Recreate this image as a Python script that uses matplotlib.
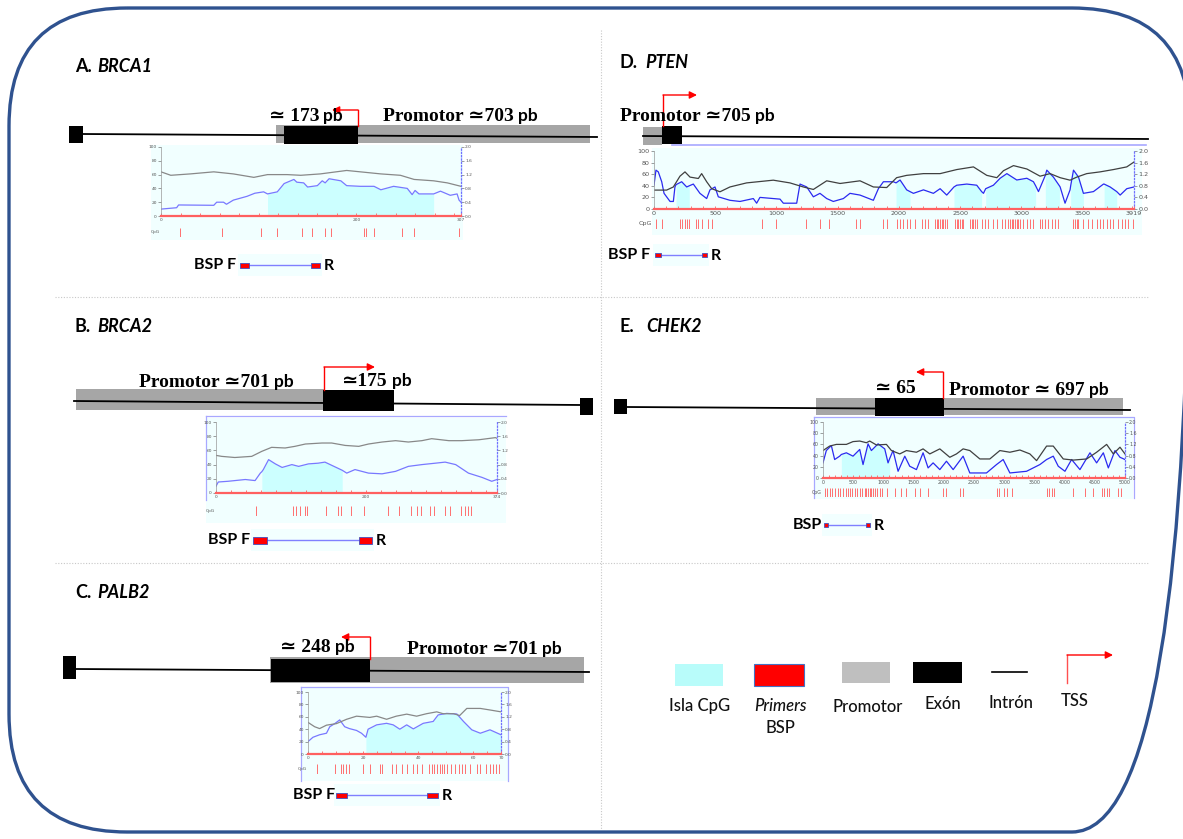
import numpy as np
import matplotlib.pyplot as plt
from matplotlib.patches import Rectangle, FancyBboxPatch

# -------------------------
# datos: contenido GC (%) y razon obs/esp CpG, islas, sitios CpG
# -------------------------
A_gc = [(0, 64), (10, 59), (30, 61), (54, 64), (74, 61), (95, 56), (109, 60), (129, 60),
        (143, 59), (163, 61), (190, 66), (204, 64), (225, 61), (245, 59), (259, 53),
        (279, 51), (293, 48), (307, 43)]
A_oe = [(0, 0.20), (16, 0.24), (18, 0.32), (54, 0.31), (57, 0.40), (64, 0.40), (67, 0.34),
        (74, 0.46), (88, 0.57), (96, 0.66), (105, 0.70), (109, 0.64), (119, 0.70), (126, 0.94),
        (136, 1.06), (139, 0.98), (146, 0.96), (150, 0.84), (160, 0.88), (165, 1.02),
        (168, 0.96), (172, 1.08), (184, 1.02), (190, 0.88), (204, 0.86), (218, 0.86),
        (225, 0.76), (238, 0.86), (252, 0.80), (257, 0.62), (260, 0.74), (264, 0.64),
        (279, 0.64), (286, 0.72), (296, 0.60), (303, 0.64), (305, 0.46), (307, 0.40)]
A_islands = [(109, 279)]
A_sites = [19, 62, 102, 119, 144, 155, 168, 174, 208, 210, 218, 247, 259, 305]
A_xticks = [0, 200, 307]

B_gc = [(0, 53), (7.5, 51.6), (25, 50), (47.5, 51.6), (61, 58.7), (74, 64.3), (92, 63.4),
        (105, 65.7), (119, 69), (141, 70.4), (154, 70.4), (172, 67), (190, 65.7), (203, 69),
        (221, 71.8), (239, 73.7), (256, 71.8), (274, 73.7), (287, 76.5), (310, 73.7),
        (327, 73.7), (350, 75), (372, 78), (374, 77)]
B_oe = [(0, 0.19), (3, 0.31), (16, 0.33), (39, 0.38), (52, 0.35), (59, 0.56), (61, 0.60),
        (63, 0.66), (70, 0.94), (79, 0.82), (88, 0.72), (101, 0.80), (110, 0.75), (123, 0.82),
        (136, 0.84), (145, 0.87), (154, 0.78), (168, 0.64), (174, 0.56), (185, 0.66),
        (203, 0.56), (221, 0.54), (239, 0.61), (256, 0.75), (274, 0.80), (292, 0.84),
        (305, 0.87), (319, 0.80), (336, 0.56), (354, 0.44), (367, 0.33), (374, 0.38)]
B_islands = [(61, 168)]
B_sites = [53, 102, 107, 112, 119, 121, 146, 162, 166, 180, 197, 229, 243, 259, 267, 273,
           285, 290, 305, 311, 326, 331, 336, 340]
B_xticks = [0, 200, 374]

C_gc = [(0, 51), (2.4, 44), (4.2, 41), (6.7, 46.5), (10.3, 49), (14, 56), (17.6, 61),
        (22.4, 59), (24.9, 61), (28.5, 56), (32, 61), (35.8, 64.3), (39.4, 61), (43, 65),
        (46.7, 68), (49, 65), (52.8, 65), (55, 62), (57.6, 73.5), (62.5, 73.5), (66, 71), (70, 68)]
C_oe = [(0, 0.40), (1.8, 0.54), (4.2, 0.62), (6.7, 0.67), (7.9, 0.88), (9.7, 0.98),
        (11.5, 1.10), (13.3, 0.88), (15, 0.82), (17.6, 0.76), (19.4, 0.67), (21, 0.54),
        (21.8, 0.80), (24.9, 0.94), (28.5, 0.99), (30.9, 0.94), (33.3, 0.80), (35.8, 0.94),
        (38.2, 0.81), (41.8, 0.99), (45.4, 1.05), (47.2, 1.26), (50.3, 1.31), (54, 1.29),
        (56.4, 1.05), (59.4, 0.78), (62.5, 0.67), (66, 0.78), (70, 0.62)]
C_islands = [(21, 70)]
C_sites = [3.4, 9.7, 11.8, 12.7, 13.7, 14.7, 20, 22.4, 26, 27, 30.3, 31.9, 34, 35.8, 38.2,
           39.4, 41.2, 44, 44.9, 45.7, 46.7, 47.7, 48.5, 49.4, 50.3, 51.8, 53.4, 54.6, 55.8,
           56.8, 58.8, 61.3, 62.5, 64.7, 65.9, 67.1, 68.3, 69.2]
C_xticks = [0, 20, 40, 60, 70]

D_gc = [(0, 32.6), (103, 32.6), (158, 38), (212, 56.6), (253, 64), (294, 55), (362, 52.6),
        (389, 61), (430, 47), (471, 35), (539, 29.7), (620, 38), (756, 45), (974, 49.7),
        (1110, 45), (1219, 38), (1301, 33.7), (1410, 48.6), (1519, 44), (1682, 48.6),
        (1791, 38), (1900, 37), (1981, 54), (2063, 58), (2200, 61), (2336, 61), (2472, 68),
        (2608, 72.6), (2717, 58), (2799, 54), (2853, 66), (2935, 74.8), (3044, 69),
        (3152, 56.6), (3234, 61), (3316, 54), (3397, 49.7), (3452, 55), (3533, 61),
        (3642, 64), (3751, 68), (3860, 72.6), (3919, 81)]
D_oe = [(0, 0.82), (16, 1.34), (35, 1.28), (63, 0.94), (82, 0.54), (131, 0.26), (158, 0.26),
        (171, 0.76), (180, 0.84), (226, 0.94), (267, 0.76), (288, 0.80), (321, 0.86),
        (375, 0.54), (430, 0.36), (457, 0.66), (498, 0.76), (525, 0.42), (620, 0.30),
        (702, 0.26), (811, 0.36), (838, 0.20), (865, 0.40), (1029, 0.34), (1056, 0.20),
        (1165, 0.20), (1192, 0.86), (1247, 0.76), (1301, 0.42), (1355, 0.54), (1410, 0.36),
        (1464, 0.26), (1546, 0.36), (1600, 0.54), (1682, 0.48), (1791, 0.30), (1832, 0.70),
        (1873, 0.94), (1955, 0.94), (1976, 0.90), (2009, 1.00), (2063, 0.66), (2090, 0.60),
        (2118, 0.54), (2200, 0.66), (2281, 0.54), (2336, 0.70), (2390, 0.48), (2449, 0.76),
        (2472, 0.82), (2554, 0.86), (2635, 0.82), (2675, 0.60), (2690, 0.54), (2708, 0.70),
        (2771, 0.82), (2826, 1.06), (2881, 1.22), (2962, 1.00), (3044, 1.06), (3098, 0.94),
        (3116, 0.80), (3139, 0.60), (3195, 1.16), (3207, 1.34), (3261, 1.10), (3310, 0.80),
        (3316, 0.76), (3356, 0.20), (3397, 0.66), (3402, 0.80), (3425, 1.34), (3466, 1.10),
        (3506, 0.54), (3588, 0.60), (3670, 0.86), (3675, 0.86), (3724, 0.76), (3778, 0.60),
        (3806, 0.48), (3860, 0.70), (3919, 0.76)]
D_islands = [(180, 288), (1976, 2090), (2449, 2675), (2708, 3116), (3195, 3310),
             (3402, 3506), (3675, 3778)]
D_sites = [16, 63, 212, 226, 253, 267, 289, 343, 362, 389, 443, 471, 879, 996, 1238, 1356,
           1429, 1650, 1682, 1867, 1900, 1981, 2009, 2036, 2063, 2090, 2131, 2186, 2213,
           2240, 2295, 2308, 2322, 2336, 2349, 2363, 2377, 2390, 2458, 2472, 2485, 2499,
           2513, 2526, 2580, 2594, 2608, 2621, 2635, 2676, 2703, 2730, 2771, 2798, 2839,
           2866, 2894, 2907, 2921, 2935, 2948, 2962, 2975, 2989, 3016, 3043, 3070, 3098,
           3152, 3166, 3193, 3220, 3247, 3275, 3302, 3419, 3438, 3452, 3465, 3506, 3547,
           3574, 3615, 3642, 3669, 3696, 3724, 3751, 3792, 3819, 3846, 3873, 3914]
D_xticks = [0, 500, 1000, 1500, 2000, 2500, 3000, 3500, 3919]

E_gc = [(0, 49), (110, 57), (221, 60), (387, 60), (497, 65), (608, 66), (718, 63), (773, 66),
        (884, 59), (1050, 60), (1133, 49), (1271, 43), (1381, 49), (1547, 46), (1657, 52),
        (1768, 43), (1934, 52), (2099, 37), (2210, 43), (2320, 52), (2431, 49), (2597, 34),
        (2762, 34), (2928, 49), (3094, 46), (3260, 50), (3425, 43), (3536, 31), (3702, 57),
        (3812, 57), (3978, 34), (4144, 32), (4365, 34), (4530, 46), (4696, 60), (4807, 43),
        (4917, 55), (5000, 43)]
E_oe = [(0, 0.54), (55, 0.98), (138, 1.16), (193, 0.66), (276, 0.78), (304, 0.84),
        (387, 0.90), (497, 0.78), (608, 1.02), (663, 0.48), (746, 1.22), (801, 0.98),
        (912, 1.22), (1022, 1.04), (1077, 0.54), (1105, 0.70), (1160, 0.98), (1243, 0.24),
        (1354, 0.78), (1436, 0.42), (1547, 0.30), (1657, 0.90), (1740, 0.36), (1823, 0.54),
        (1934, 0.30), (2044, 0.60), (2155, 0.30), (2320, 0.78), (2431, 0.18), (2707, 0.18),
        (2873, 0.48), (2983, 0.66), (3094, 0.18), (3370, 0.24), (3591, 0.48), (3702, 0.66),
        (3812, 0.78), (3895, 0.42), (4006, 0.24), (4116, 0.66), (4254, 0.30), (4420, 0.90),
        (4530, 0.54), (4641, 0.90), (4724, 0.36), (4834, 0.98), (4917, 0.74), (5000, 0.66)]
E_islands = [(304, 1105)]
E_sites = [28, 66, 110, 155, 199, 243, 287, 331, 376, 420, 453, 486, 525, 564, 608, 652,
           691, 718, 746, 773, 801, 829, 856, 895, 939, 983, 1061, 1188, 1298, 1381, 1519,
           1602, 1740, 1989, 2044, 2265, 2320, 2873, 2917, 2994, 3039, 3122, 3702, 3746,
           3785, 3829, 4133, 4337, 4475, 4613, 4657, 4696, 4740, 4890, 4928]
E_xticks = [0, 500, 1000, 1500, 2000, 2500, 3000, 3500, 4000, 4500, 5000]

titles = [("A.", "BRCA1"), ("B.", "BRCA2"), ("C.", "PALB2"), ("D.", "PTEN"), ("E.", "CHEK2")]
legend_labels = ["Isla CpG", "Primers", "Promotor", "Exón", "Intrón", "TSS"]

# -------------------------
# lienzo
# -------------------------
W, H = 1183, 839
fig = plt.figure(figsize=(W / 100, H / 100), dpi=100)
cv = fig.add_axes([0, 0, 1, 1])
cv.set_xlim(0, W)
cv.set_ylim(H, 0)
cv.axis("off")
renderer = fig.canvas.get_renderer()

SANS = ["Lato", "DejaVu Sans"]
SERIF = ["Liberation Serif", "DejaVu Serif"]
PROM = "#A6A6A6"


def frac(x0, y0, x1, y1):
    return [x0 / W, 1 - y1 / H, (x1 - x0) / W, (y1 - y0) / H]


def rect(x0, y0, x1, y1, color, z=2, ec="none", lw=0):
    cv.add_patch(Rectangle((x0, y0), x1 - x0, y1 - y0, facecolor=color,
                           edgecolor=ec, lw=lw, zorder=z))


def tss(x, y0, y1, x_end):
    cv.plot([x, x], [y0, y1], color="red", lw=1, zorder=5)
    cv.annotate("", xy=(x_end, y1), xytext=(x, y1),
                arrowprops=dict(arrowstyle="-|>", color="red", lw=1,
                                mutation_scale=11, shrinkA=0, shrinkB=0), zorder=5)


def glabel(x, y, s, unit="pb"):
    # numero en serif (tipo Cambria), "pb" en sans, misma linea base
    t = cv.text(x, y + 5, s, ha="left", va="baseline", fontsize=14, fontweight="bold",
                family=SERIF, zorder=6)
    if unit:
        bb = t.get_window_extent(renderer)
        xe = cv.transData.inverted().transform((bb.x1, bb.y0))[0]
        cv.text(xe + 4, y + 5, unit, ha="left", va="baseline", fontsize=12.5,
                fontweight="bold", family=SANS, zorder=6)


def bsp(tx, y, lab, f0, f1, r0, r1, h):
    cv.add_patch(Rectangle((f0 - 2, y - 11), r1 - f0 + 4, 22, facecolor="#F2FFFF",
                           edgecolor="none", zorder=1))
    cv.plot([f1, r0], [y, y], color="#8080FF", lw=1, zorder=2)
    rect(f0, y - h / 2, f1, y + h / 2, "red", 3, "#4050C0", 0.6)
    rect(r0, y - h / 2, r1, y + h / 2, "red", 3, "#4050C0", 0.6)
    cv.text(tx, y, lab, ha="right", va="center", fontsize=11.5, fontweight="bold",
            family=SANS)
    cv.text(r1 + 4, y + 1, "R", ha="left", va="center", fontsize=11.5,
            fontweight="bold", family=SANS)


def cpg_plot(area, row, bg, xmax, xticks, minor, gc, oe, islands, sites,
             gc_col, oe_col, fs):
    cv.add_patch(Rectangle((bg[0], bg[1]), bg[2] - bg[0], bg[3] - bg[1],
                           facecolor="#F1FFFF", edgecolor="none", zorder=0))
    ax = fig.add_axes(frac(*area))
    ax2 = ax.twinx()
    ax.set_zorder(ax2.get_zorder() + 1)
    ax.patch.set_visible(False)
    ax2.patch.set_visible(False)
    ax.set_xlim(0, xmax)
    ax.set_ylim(0, 100)
    ax2.set_ylim(0, 2)
    ox, oy = np.array(oe).T
    for a, b in islands:
        ax2.fill_between(ox, 0, oy, where=(ox >= a) & (ox <= b), color="#CCFFFF", lw=0)
    ax2.plot(ox, oy, color=oe_col, lw=0.9)
    gx, gy = np.array(gc).T
    ax.plot(gx, gy, color=gc_col, lw=0.9)
    for s in ["top", "right"]:
        ax.spines[s].set_visible(False)
    for s in ["top", "left", "bottom"]:
        ax2.spines[s].set_visible(False)
    ax.spines["left"].set_color("#999999")
    ax.spines["left"].set_linewidth(0.5)
    ax.spines["bottom"].set_color("#FF6060")
    ax.spines["bottom"].set_linewidth(1.6)
    ax2.spines["right"].set_color("#7070FF")
    ax2.spines["right"].set_linestyle(":")
    ax2.spines["right"].set_linewidth(0.9)
    ax.set_yticks(range(0, 101, 20))
    ax2.set_yticks([0, 0.4, 0.8, 1.2, 1.6, 2.0])
    ax.set_xticks(xticks)
    ax.set_xticks(np.arange(0, xmax, minor), minor=True)
    ax.tick_params(axis="y", labelsize=fs, colors="#555555", length=2, width=0.4, pad=1)
    ax2.tick_params(axis="y", labelsize=fs, colors="#555555", length=2, width=0.4, pad=1)
    ax.tick_params(axis="x", which="both", labelsize=fs, labelcolor="#555555",
                   color="#FF6060", direction="in", length=2.5, width=0.6, pad=1.5)
    axr = fig.add_axes(frac(*row))
    axr.set_xlim(0, xmax)
    axr.set_ylim(0, 1)
    axr.vlines(sites, 0, 1, color="#FF7070", lw=0.7)
    axr.axis("off")
    axr.text(-0.004, 0.5, "CpG", transform=axr.transAxes, ha="right", va="center",
             fontsize=fs, color="#555555")


# -------------------------
# borde y divisiones
# -------------------------
cv.add_patch(FancyBboxPatch((9, 8), 1181, 824, boxstyle="round,pad=0,rounding_size=118",
                            facecolor="none", edgecolor="#2F528F", lw=2.4, clip_on=False,
                            zorder=1))
cv.plot([601, 601], [30, 830], ls=(0, (1, 1.5)), color="#C8C8C8", lw=0.8)
for yy in [297, 563]:
    cv.plot([55, 1148], [yy, yy], ls=(0, (1, 1.5)), color="#C8C8C8", lw=0.8)

# titulos de panel
for (pre, gene), (x, y, gx) in zip(titles, [(75, 67, 97), (75, 327, 97), (75, 593, 97),
                                             (620, 63, 645), (620, 327, 646)]):
    cv.text(x, y, pre, ha="left", va="center", fontsize=13, fontweight="bold", family=SANS)
    cv.text(gx, y, gene, ha="left", va="center", fontsize=13, fontweight="bold",
            style="italic", family=SANS)

# -------------------------
# A. BRCA1
# -------------------------
rect(69, 126, 83, 143, "black")
rect(276, 125, 590, 143, PROM, 1)
cv.plot([83, 597], [134, 137], color="black", lw=1.3, zorder=2)
rect(284, 126, 358, 144, "black", 3)
tss(358, 126, 110, 332)
glabel(269, 116, "≃ 173")
glabel(383, 116, "Promotor ≃703")
cpg_plot((161, 147, 461, 216), (161, 228, 461, 237), (151, 145, 463, 240), 307, A_xticks,
         20, A_gc, A_oe, A_islands, A_sites, "#888888", "#7878FF", 3.2)
bsp(236, 265, "BSP F", 240, 249, 311, 320, 5)

# -------------------------
# B. BRCA2
# -------------------------
rect(76, 389, 325, 410, PROM, 1)
cv.plot([74, 581], [401, 405], color="black", lw=1.3, zorder=2)
rect(323, 390, 394, 411, "black", 3)
rect(580, 398, 593, 415, "black", 3)
tss(324, 390, 367, 375)
glabel(139, 382, "Promotor ≃701")
glabel(342, 381, "≃175")
cpg_plot((216, 422, 497, 493), (216, 506, 497, 516), (206, 418, 506, 523), 374, B_xticks,
         20, B_gc, B_oe, B_islands, B_sites, "#888888", "#7878FF", 3.2)
cv.plot([206, 506], [416, 416], color="#A8A8FF", lw=0.9)
cv.plot([206, 206], [416, 500], color="#A8A8FF", lw=0.9)
bsp(250, 540, "BSP F", 253, 267, 359, 372, 7)

# -------------------------
# C. PALB2
# -------------------------
rect(63, 656, 76, 679, "black")
rect(270, 657, 584, 683, PROM, 1)
cv.plot([76, 589], [669, 672], color="black", lw=1.3, zorder=2)
rect(271, 659, 370, 682, "black", 3)
tss(370, 659, 637, 341)
glabel(280, 647, "≃ 248")
glabel(407, 649, "Promotor ≃701")
cpg_plot((308, 692, 501, 754), (308, 764, 501, 774), (302, 688, 508, 781), 70, C_xticks,
         5, C_gc, C_oe, C_islands, C_sites, "#888888", "#7878FF", 3.2)
cv.plot([301, 508, 508], [687, 687, 781], color="#A8A8FF", lw=0.9)
cv.plot([301, 301], [687, 781], color="#A8A8FF", lw=0.9)
bsp(335, 795, "BSP F", 336, 347, 427, 438, 5)

# -------------------------
# D. PTEN
# -------------------------
rect(643, 127, 662, 145, PROM, 1)
cv.plot([643, 1148], [136, 139], color="black", lw=1.3, zorder=2)
rect(662, 126, 682, 144, "black", 3)
tss(663, 126, 95, 697)
glabel(620, 116, "Promotor ≃705")
cpg_plot((654, 151, 1134, 209), (654, 219, 1134, 229), (652, 148, 1142, 235), 3919,
         D_xticks, 100, D_gc, D_oe, D_islands, D_sites, "#404040", "#2A2AF0", 4.6)
cv.plot([672, 1146], [145, 145], color="#A8A8FF", lw=1.2)
bsp(650, 255, "BSP F", 655, 661, 702, 707, 4)

# -------------------------
# E. CHEK2
# -------------------------
rect(614, 399, 627, 414, "black")
rect(816, 398, 1123, 415, PROM, 1)
cv.plot([627, 1130], [407, 410], color="black", lw=1.3, zorder=2)
rect(875, 398, 944, 416, "black", 3)
tss(943, 398, 372, 916)
glabel(875, 388, "≃ 65", unit=None)
glabel(949, 390, "Promotor ≃ 697")
cpg_plot((823, 422, 1125, 478), (823, 488, 1125, 497), (815, 418, 1133, 499), 5000,
         E_xticks, 100, E_gc, E_oe, E_islands, E_sites, "#404040", "#2A2AF0", 3.4)
cv.plot([814, 1134, 1134], [417, 417, 498], color="#A8A8FF", lw=0.9)
cv.plot([814, 814], [417, 498], color="#A8A8FF", lw=0.9)
bsp(822, 525, "BSP", 824, 828, 866, 870, 4)

# -------------------------
# leyenda
# -------------------------
rect(675, 664, 723, 686, "#B8FCFA")
rect(754, 664, 804, 686, "red", 2, "#4472C4", 0.8)
rect(842, 662, 890, 683, "#BFBFBF")
rect(913, 662, 962, 683, "black")
cv.plot([992, 1027], [672, 672], color="black", lw=1.2)
cv.plot([1067, 1067], [683, 655], color="#FF5050", lw=1)
cv.annotate("", xy=(1113, 655), xytext=(1067, 655),
            arrowprops=dict(arrowstyle="-|>", color="red", lw=1, mutation_scale=11,
                            shrinkA=0, shrinkB=0))
lx = [700, 780, 868, 943, 1011, 1075]
ly = [706, 706, 707, 704, 703, 701]
for x, y, s in zip(lx, ly, legend_labels):
    st = "italic" if s == "Primers" else "normal"
    cv.text(x, y, s, ha="center", va="center", fontsize=12, style=st, family=SANS,
            fontweight="medium", color="#111111")
cv.text(780, 728, "BSP", ha="center", va="center", fontsize=12, family=SANS,
        fontweight="medium", color="#111111")

fig.savefig("out.png", dpi=100)
print("Saved: out.png")
